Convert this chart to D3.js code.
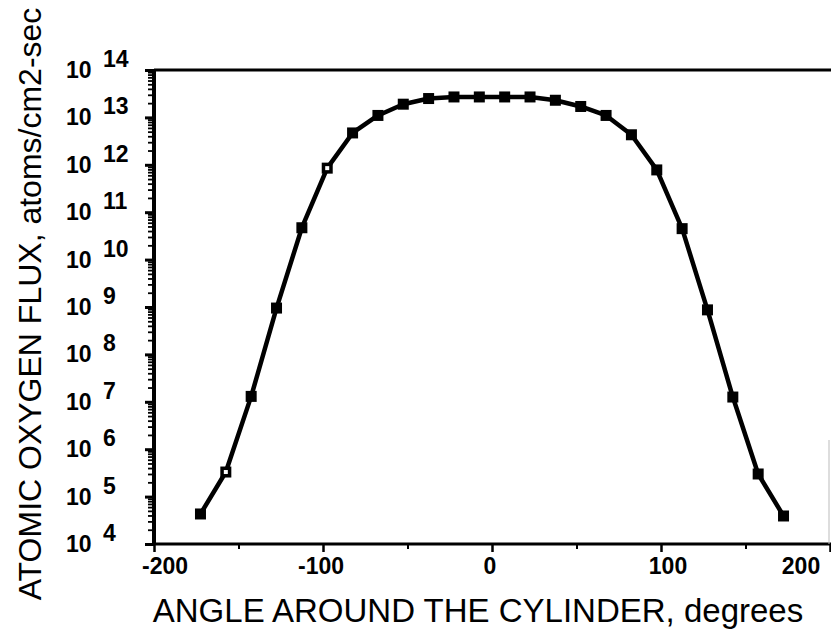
<!DOCTYPE html>
<html>
<head>
<meta charset="utf-8">
<script src="https://cdn.jsdelivr.net/npm/d3@7.9.0/dist/d3.min.js"></script>
<style>
  body { margin: 0; background: #fff; }
  svg { display: block; font-family: 'Liberation Sans', Arial, sans-serif; }
</style>
</head>
<body>
<svg id="chart" width="831" height="635"></svg>
<script>
// angle around the cylinder, degrees
const angles = [-172.5, -157.5, -142.5, -127.5, -112.5, -97.5, -82.5, -67.5,
  -52.5, -37.5, -22.5, -7.5, 7.5, 22.5, 37.5, 52.5, 67.5, 82.5, 97.5,
  112.5, 127.5, 142.5, 157.5, 172.5];
// atomic oxygen flux, atoms/cm2-sec
const flux = [4.3e4, 3.3e5, 1.3e7, 9.5e8, 4.7e10, 8.5e11, 4.7e12, 1.1e13,
  1.9e13, 2.5e13, 2.7e13, 2.7e13, 2.7e13, 2.7e13, 2.3e13, 1.7e13, 1.1e13,
  4.3e12, 7.8e11, 4.5e10, 8.7e8, 1.26e7, 3.0e5, 3.9e4];
// markers that print as open squares in the scan
const openMarkers = [1, 5];

const xTicks = [-200, -100, 0, 100, 200];
const xMinorTicks = [-150, -50, 50, 150];
const yExponents = [4, 5, 6, 7, 8, 9, 10, 11, 12, 13, 14];

const svg = d3.select('#chart');
const plotLeft = 154, plotRight = 830, plotTop = 70, plotBottom = 544;

const x = d3.scaleLinear().domain([-200, 200]).range([plotLeft, plotRight]);
const y = d3.scaleLog().domain([1e4, 1e14]).range([plotBottom, plotTop]);

// minor log ticks on the left axis
const minorY = [];
for (const e of yExponents.slice(0, -1)) {
  for (let m = 2; m <= 9; m++) minorY.push(m * Math.pow(10, e));
}

svg.append('g')
  .attr('transform', `translate(${plotLeft},0)`)
  .call(d3.axisLeft(y).tickValues(minorY).tickSize(6).tickFormat(''))
  .call((g) => g.select('.domain').remove())
  .selectAll('line').attr('stroke', '#000').attr('stroke-width', 1.8);

svg.append('g')
  .attr('transform', `translate(${plotLeft},0)`)
  .call(d3.axisLeft(y).tickValues(yExponents.map((e) => Math.pow(10, e))).tickSize(9).tickFormat(''))
  .call((g) => g.select('.domain').remove())
  .selectAll('line').attr('stroke', '#000').attr('stroke-width', 3);

// x ticks
svg.append('g')
  .attr('transform', `translate(0,${plotBottom})`)
  .call(d3.axisBottom(x).tickValues(xMinorTicks).tickSize(5).tickFormat(''))
  .call((g) => g.select('.domain').remove())
  .selectAll('line').attr('stroke', '#000').attr('stroke-width', 2);

svg.append('g')
  .attr('transform', `translate(0,${plotBottom})`)
  .call(d3.axisBottom(x).tickValues(xTicks).tickSize(8).tickFormat(''))
  .call((g) => g.select('.domain').remove())
  .selectAll('line').attr('stroke', '#000').attr('stroke-width', 2.5);

// frame
svg.append('line').attr('x1', plotLeft).attr('x2', plotLeft).attr('y1', plotTop - 1).attr('y2', plotBottom + 1)
  .attr('stroke', '#000').attr('stroke-width', 4);
svg.append('line').attr('x1', plotLeft).attr('x2', 831).attr('y1', plotBottom).attr('y2', plotBottom)
  .attr('stroke', '#000').attr('stroke-width', 3);
svg.append('line').attr('x1', plotLeft).attr('x2', 831).attr('y1', plotTop).attr('y2', plotTop)
  .attr('stroke', '#000').attr('stroke-width', 3);
svg.append('line').attr('x1', plotRight - 1).attr('x2', plotRight - 1).attr('y1', 440).attr('y2', plotBottom)
  .attr('stroke', '#bbb').attr('stroke-width', 1);

// y tick labels: 10 with raised exponent
const yLab = svg.append('g').style('font-weight', 'bold').style('font-size', '23px').attr('fill', '#000');
yExponents.forEach((e) => {
  const ty = y(Math.pow(10, e));
  yLab.append('text').attr('x', 66).attr('y', ty + 8).text('10');
  yLab.append('text').attr('x', 103).attr('y', ty - 3).text(e);
});

// x tick labels
const xLabOffset = { '-200': 11, '-100': -2, '0': -2, '100': 7, '200': -29 };
svg.append('g').style('font-weight', 'bold').style('font-size', '23px')
  .selectAll('text').data(xTicks).join('text')
  .attr('x', (d) => x(d) + xLabOffset[d])
  .attr('y', 574)
  .attr('text-anchor', 'middle')
  .text((d) => d);

// axis titles
svg.append('text')
  .attr('x', 478).attr('y', 622)
  .attr('text-anchor', 'middle')
  .style('font-size', '33px')
  .text('ANGLE AROUND THE CYLINDER, degrees');

svg.append('text')
  .attr('transform', 'translate(41,304) rotate(-90)')
  .attr('text-anchor', 'middle')
  .style('font-size', '32px')
  .text('ATOMIC OXYGEN FLUX, atoms/cm2-sec');

// data
const pts = angles.map((a, i) => ({ a, f: flux[i], open: openMarkers.includes(i) }));

svg.append('path')
  .datum(pts)
  .attr('fill', 'none')
  .attr('stroke', '#000')
  .attr('stroke-width', 4.5)
  .attr('stroke-linejoin', 'round')
  .attr('d', d3.line().x((d) => x(d.a)).y((d) => y(d.f)));

const s = 11;
svg.append('g').selectAll('rect').data(pts).join('rect')
  .attr('x', (d) => x(d.a) - s / 2)
  .attr('y', (d) => y(d.f) - s / 2)
  .attr('width', s).attr('height', s)
  .attr('fill', '#000');

svg.append('g').selectAll('rect').data(pts.filter((d) => d.open)).join('rect')
  .attr('x', (d) => x(d.a) - 2)
  .attr('y', (d) => y(d.f) - 2)
  .attr('width', 4).attr('height', 4)
  .attr('fill', '#fff');
</script>
</body>
</html>
